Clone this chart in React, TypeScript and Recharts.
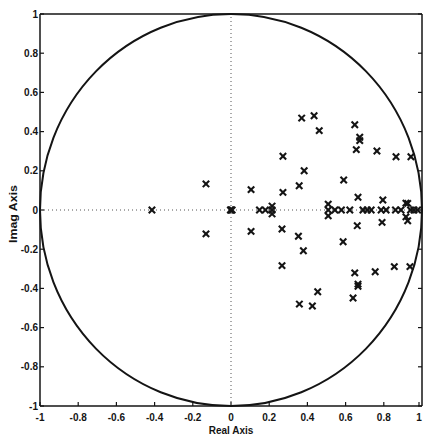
import { ScatterChart, Scatter, XAxis, YAxis, ReferenceLine, ReferenceArea } from 'recharts';

// pole locations (real, imag)
const axisRe = [-0.414, -0.003, 0, 0.006, 0.149, 0.18, 0.215, 0.509, 0.544, 0.578, 0.622, 0.691, 0.713, 0.734, 0.786, 0.812, 0.861, 0.89, 0.94, 0.958, 0.977];
const upperRe = [-0.131, 0.105, 0.272, 0.272, 0.37, 0.435, 0.462, 0.383, 0.357, 0.59, 0.648, 0.674, 0.674, 0.656, 0.665, 0.764, 0.795, 0.864, 0.942, 0.925, 0.215, 0.509, 0.916];
const upperIm = [0.133, 0.104, 0.274, 0.09, 0.469, 0.481, 0.405, 0.2, 0.124, 0.153, 0.435, 0.371, 0.354, 0.308, 0.065, 0.301, 0.051, 0.272, 0.272, 0.034, 0.02, 0.03, 0.035];
const lowerRe = [-0.131, 0.105, 0.267, 0.267, 0.353, 0.379, 0.358, 0.426, 0.454, 0.587, 0.661, 0.648, 0.665, 0.665, 0.639, 0.755, 0.791, 0.855, 0.937, 0.925, 0.215, 0.509, 0.916];
const lowerIm = [-0.122, -0.109, -0.097, -0.284, -0.134, -0.208, -0.48, -0.49, -0.417, -0.162, -0.08, -0.321, -0.378, -0.389, -0.449, -0.315, -0.063, -0.289, -0.289, -0.055, -0.02, -0.03, -0.035];
const xTicks = [-1, -0.8, -0.6, -0.4, -0.2, 0, 0.2, 0.4, 0.6, 0.8, 1];
const yTicks = [-1, -0.8, -0.6, -0.4, -0.2, 0, 0.2, 0.4, 0.6, 0.8, 1];

const INK = '#141414';
const FONT = 'Liberation Sans, Arial, sans-serif';

const axisPts = axisRe.map((x) => ({ x, y: 0 }));
const upperPts = upperRe.map((x, i) => ({ x, y: upperIm[i] }));
const lowerPts = lowerRe.map((x, i) => ({ x, y: lowerIm[i] }));

const fmt = (v: number) => String(v);

function Cross({ cx, cy }: any) {
  const s = 3.2;
  return (
    <g stroke={INK} strokeWidth={2.1}>
      <line x1={cx - s} y1={cy - s} x2={cx + s} y2={cy + s} />
      <line x1={cx - s} y1={cy + s} x2={cx + s} y2={cy - s} />
    </g>
  );
}

function BottomTick({ x, y, payload }: any) {
  return (
    <g>
      <line x1={x} y1={y} x2={x} y2={y - 4} stroke={INK} strokeWidth={1.2} />
      <text x={x} y={y + 15} textAnchor="middle" fontSize={10} fontWeight="bold" fontFamily={FONT} fill={INK}>{fmt(payload.value)}</text>
    </g>
  );
}

function LeftTick({ x, y, payload }: any) {
  return (
    <g>
      <line x1={x} y1={y} x2={x + 4} y2={y} stroke={INK} strokeWidth={1.2} />
      <text x={x - 2} y={y + 3.5} textAnchor="end" fontSize={10} fontWeight="bold" fontFamily={FONT} fill={INK}>{fmt(payload.value)}</text>
    </g>
  );
}

const Blank = () => <g />;

export default function App() {
  return (
    <div style={{ position: 'absolute', left: 0, top: 0, width: 423, height: 437, background: '#fff' }}>
      <ScatterChart width={423} height={437} margin={{ top: 14, right: 1, bottom: 0, left: 0 }}>
        <XAxis xAxisId="b" type="number" dataKey="x" domain={[-1, 1]} ticks={xTicks} allowDataOverflow
          height={31} tickSize={0} tickMargin={0} tickLine={false} tick={<BottomTick />} axisLine={{ stroke: INK, strokeWidth: 1.5 }}
          label={{ value: 'Real Axis', position: 'insideBottom', offset: 3, fontSize: 10, fontWeight: 'bold', fontFamily: FONT, fill: INK }} />
        <XAxis xAxisId="t" orientation="top" mirror type="number" domain={[-1, 1]} ticks={xTicks} allowDataOverflow
          tickSize={4} tick={<Blank />} tickLine={{ stroke: INK, strokeWidth: 1.2 }} axisLine={{ stroke: INK, strokeWidth: 1.5 }} />
        <YAxis yAxisId="l" type="number" dataKey="y" domain={[-1, 1]} ticks={yTicks} allowDataOverflow
          width={40} tickSize={0} tickMargin={0} tickLine={false} tick={<LeftTick />} axisLine={{ stroke: INK, strokeWidth: 1.5 }} />
        <YAxis yAxisId="r" orientation="right" mirror type="number" domain={[-1, 1]} ticks={yTicks} allowDataOverflow
          tickSize={4} tick={<Blank />} tickLine={{ stroke: INK, strokeWidth: 1.2 }} axisLine={{ stroke: INK, strokeWidth: 1.5 }} />
        <ReferenceLine xAxisId="b" yAxisId="l" x={0} stroke="#555" strokeWidth={1} strokeDasharray="1 3" />
        <ReferenceLine xAxisId="b" yAxisId="l" y={0} stroke="#555" strokeWidth={1} strokeDasharray="1 3" />
        <ReferenceArea xAxisId="b" yAxisId="l" x1={-1} x2={1} y1={-1} y2={1} fill="none"
          shape={(p: any) => (
            <ellipse cx={p.x + p.width / 2} cy={p.y + p.height / 2} rx={p.width / 2} ry={p.height / 2} fill="none" stroke={INK} strokeWidth={2} />
          )} />
        <Scatter xAxisId="b" yAxisId="l" data={axisPts} shape={<Cross />} isAnimationActive={false} />
        <Scatter xAxisId="b" yAxisId="l" data={upperPts} shape={<Cross />} isAnimationActive={false} />
        <Scatter xAxisId="b" yAxisId="l" data={lowerPts} shape={<Cross />} isAnimationActive={false} />
      </ScatterChart>
      <svg width={20} height={80} style={{ position: 'absolute', left: 3, top: 174 }}>
        <text x={0} y={0} transform="translate(14 40) rotate(-90)" textAnchor="middle" fontSize={10} fontWeight="bold"
          fontFamily={FONT} fill={INK} textLength={58} lengthAdjust="spacingAndGlyphs">Imag Axis</text>
      </svg>
    </div>
  );
}
